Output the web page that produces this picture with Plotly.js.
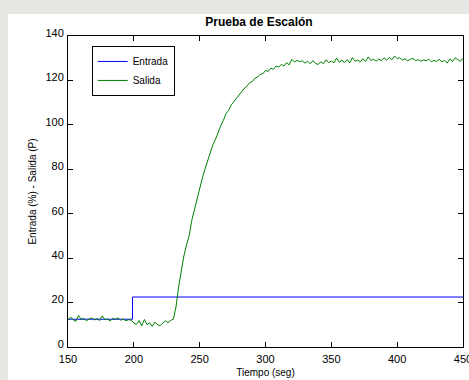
<!DOCTYPE html>
<html>
<head>
<meta charset="utf-8">
<script src="https://cdn.plot.ly/plotly-3.0.1.min.js"></script>
<style>
html,body{margin:0;padding:0;background:#e4e7e2;width:469px;height:380px;overflow:hidden;}
#chart{position:absolute;left:8px;top:14px;width:461px;height:366px;overflow:hidden;}
</style>
</head>
<body>
<div id="chart"></div>
<script>
// Entrada (step input)
const entradaT = [150, 199, 199, 450];
const entradaY = [12.5, 12.5, 22.5, 22.5];

// Salida (measured output), sampled every 2 s
const salidaT = [
150,152,154,156,158,160,162,164,166,168,170,172,174,176,178,180,182,184,186,188,190,192,194,196,198,
200,202,204,206,208,210,212,214,216,218,220,222,224,226,228,
230,232,234,236,238,240,242,244,246,248,250,252,254,256,258,260,262,264,266,268,270,272,274,276,278,
280,282,284,286,288,290,292,294,296,298,300,302,304,306,308,310,312,314,316,318,320,322,324,326,328,
330,332,334,336,338,340,342,344,346,348,350,352,354,356,358,360,362,364,366,368,370,372,374,376,378,
380,382,384,386,388,390,392,394,396,398,400,402,404,406,408,410,412,414,416,418,420,422,424,426,428,
430,432,434,436,438,440,442,444,446,448,450];
const salidaY = [
12.0,13.5,12.2,11.6,14.2,12.4,12.9,11.8,12.6,13.1,12.2,12.8,11.9,14.0,12.3,12.7,11.7,12.9,12.4,13.2,12.0,12.6,11.8,12.3,12.1,
10.8,10.2,11.9,9.5,12.4,10.1,10.9,9.3,11.2,10.0,9.6,10.7,11.8,10.9,12.0,
12.5,18,27,35,41,46,50,57,62,67,72,76,80,84,87.5,91,93.5,97,99.5,102,105,106.5,109,110.5,112,
114,115,116.5,117.5,119,119.5,121,121.5,122.8,123,124.5,124,125.5,125,126.5,126,127.2,126.5,128,127,129.5,128.3,129,128.5,128.8,
127.8,128.6,127.5,128.9,127.6,127.2,128.4,127.5,129.3,128.0,128.7,127.9,130.1,128.2,129.0,128.1,129.4,127.9,130.3,128.6,129.1,128.4,129.8,128.5,130.6,
129.0,129.5,128.7,129.6,128.9,130.2,129.1,130.4,129.3,131.0,129.8,130.2,129.2,129.7,128.8,129.5,129.9,128.9,129.4,128.6,129.2,128.8,129.6,128.4,129.0,
128.6,129.5,128.3,129.1,127.8,129.7,128.5,130.2,129.4,128.6,130.0];

const xTicks = [150, 200, 250, 300, 350, 400, 450];
const yTicks = [0, 20, 40, 60, 80, 100, 120, 140];

const traces = [
  {x: entradaT, y: entradaY, type: 'scatter', mode: 'lines', name: 'Entrada',
   line: {color: '#0000ff', width: 1}},
  {x: salidaT, y: salidaY, type: 'scatter', mode: 'lines', name: 'Salida',
   line: {color: '#008000', width: 1}}
];

const FONT = 'Liberation Sans, Arial, sans-serif';
const axisCommon = {
  showgrid: false, zeroline: false, showline: true, linecolor: '#000', linewidth: 1,
  mirror: 'ticks', ticks: 'inside', ticklen: 5, tickcolor: '#000', tickwidth: 1,
  ticklabeloverflow: 'allow',
  tickfont: {family: FONT, size: 11, color: '#000'}
};

const layout = {
  width: 461, height: 366,
  margin: {l: 60, r: 6, t: 22, b: 33},
  paper_bgcolor: '#ffffff', plot_bgcolor: '#ffffff',
  title: {text: '<b>Prueba de Escalón</b>', x: 0.5445, xanchor: 'center', y: 0.978, yanchor: 'middle',
          yref: 'container', font: {family: FONT, size: 12, color: '#000'}},
  xaxis: Object.assign({}, axisCommon, {
    range: [150, 450], tickvals: xTicks, ticktext: xTicks.map(String),
    ticklabelstandoff: 2,
    title: {text: 'Tiempo (seg)', standoff: 4, font: {family: FONT, size: 10, color: '#000'}}
  }),
  yaxis: Object.assign({}, axisCommon, {
    range: [0, 140], tickvals: yTicks, ticktext: yTicks.map(String),
    ticklabelstandoff: 1, ticklabelshift: -3,
    title: {text: 'Entrada (%) - Salida (P)', standoff: 6, font: {family: FONT, size: 10, color: '#000'}}
  }),
  showlegend: true,
  legend: {x: 0.06, y: 0.968, xanchor: 'left', yanchor: 'top', bgcolor: '#fff',
           bordercolor: '#000', borderwidth: 1, tracegroupgap: 0,
           font: {family: FONT, size: 10, color: '#000'}}
};

Plotly.newPlot('chart', traces, layout, {displayModeBar: false, staticPlot: true});
</script>
</body>
</html>
